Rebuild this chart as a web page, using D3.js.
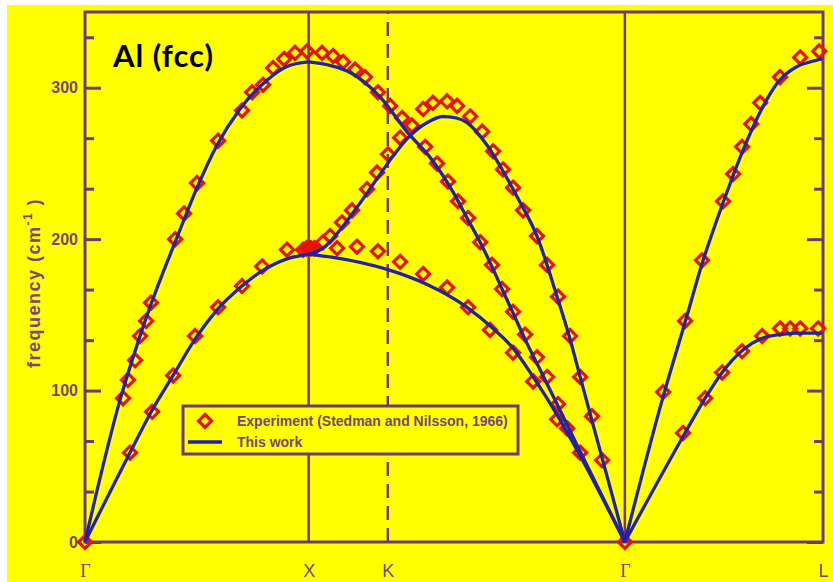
<!DOCTYPE html>
<html>
<head>
<meta charset="utf-8">
<title>Al (fcc) phonons</title>
<style>
body { margin: 0; background: #fff; }
svg { display: block; }
</style>
<script src="https://cdn.jsdelivr.net/npm/d3@7"></script>
</head>
<body>
<svg id="chart" width="833" height="582"></svg>
<script>
// high symmetry points along the path (in 2pi/a units)
const symNames = ["Γ", "X", "K", "Γ", "L"];
const symPos = [0, 1, 1.354, 2.414, 3.3];
const yMajor = [0, 100, 200, 300];
const yMinor = [33.3, 66.7, 133.3, 166.7, 233.3, 266.7, 333.3];

// calculated branches ("This work"), [q, frequency]
const gxLong = [[0,0],[0.157,94],[0.237,132],[0.300,159],[0.349,178],[0.411,201],[0.501,234],[0.590,262],[0.693,286],[0.814,305],[0.903,314],[1.0,317]];
const gxTrans = [[0,0],[0.201,59],[0.300,87],[0.394,110],[0.492,134],[0.595,154],[0.702,169],[0.792,179],[0.903,187],[1.0,190]];
const xgUpper = [[1.0,317],[1.172,311],[1.319,294],[1.445,270],[1.543,254],[1.646,231],[1.708,214],[1.767,198],[1.887,160],[1.977,131],[2.048,110],[2.2,64],[2.414,0]];
const xgMiddle = [[1.0,190],[1.064,194],[1.140,206],[1.216,221],[1.306,240],[1.373,254],[1.445,267],[1.530,277],[1.601,281],[1.660,280],[1.708,277],[1.798,262],[1.869,245],[1.932,228],[2.021,202],[2.111,162],[2.169,134],[2.214,109],[2.414,0]];
const xgLower = [[1.0,190],[1.109,188],[1.351,180],[1.530,170],[1.708,155],[1.825,141],[1.914,128],[2.004,109],[2.111,84],[2.214,57],[2.414,0]];
const glLong = [[2.414,0],[2.585,96],[2.683,145],[2.764,186],[2.853,224],[2.943,259],[3.019,284],[3.095,303],[3.184,314],[3.242,317],[3.296,319]];
const glTrans = [[2.414,0],[2.683,72],[2.773,95],[2.849,112],[2.943,127],[3.019,134],[3.108,137],[3.198,138],[3.296,138]];

// experiment (Stedman and Nilsson, 1966)
const expGamma = [[0,0],[2.414,0]];
const expGxLong = [[0.170,95],[0.192,107],[0.224,120],[0.246,136],[0.273,146],[0.295,158],[0.403,200],[0.443,217],[0.501,237],[0.595,265],[0.702,285],[0.747,297],[0.796,302],[0.841,313],[0.890,319],[0.939,323],[0.993,324]];
const expGxTrans = [[0.201,59],[0.300,86],[0.394,110],[0.492,136],[0.595,155],[0.702,169],[0.792,182],[0.903,193],[0.975,193],[0.99,194],[1.0,194],[1.01,194],[1.025,194]];
const expXgUpper = [[1.060,323],[1.109,321],[1.154,317],[1.208,312],[1.252,307],[1.310,297],[1.364,288],[1.418,280],[1.462,275],[1.521,261],[1.574,250],[1.623,238],[1.668,225],[1.713,214],[1.767,198],[1.820,183],[1.865,167],[1.914,152],[1.968,137],[2.021,122],[2.066,109],[2.115,91],[2.156,75]];
const expXgMiddle = [[1.064,198],[1.096,202],[1.149,211],[1.194,219],[1.261,233],[1.306,244],[1.355,256],[1.409,267],[1.512,286],[1.556,290],[1.619,291],[1.664,288],[1.722,281],[1.776,271],[1.825,258],[1.869,246],[1.914,234],[1.959,219],[2.021,202],[2.066,183],[2.115,162],[2.169,136],[2.214,109],[2.267,83],[2.312,54]];
const expXgLower = [[1.127,194],[1.216,195],[1.310,192],[1.409,185],[1.512,177],[1.619,168],[1.713,155],[1.811,140],[1.914,125],[2.004,106],[2.111,81],[2.214,59]];
const expGlLong = [[2.585,99],[2.683,146],[2.759,186],[2.853,225],[2.898,243],[2.938,261],[2.979,276],[3.019,290],[3.108,307],[3.198,320],[3.283,324]];
const expGlTrans = [[2.674,72],[2.773,95],[2.849,112],[2.938,126],[3.028,136],[3.108,141],[3.153,141],[3.198,141],[3.278,141]];

const calcSets = [gxLong, gxTrans, xgUpper, xgMiddle, xgLower, glLong, glTrans];
const expSets = [expGamma, expGxLong, expGxTrans, expXgUpper, expXgMiddle, expXgLower, expGlLong, expGlTrans];

const purple = "#6f3b6f";
const textPurple = "#7a4678";
const blue = "#2222a6";
const red = "#e2140c";

const svg = d3.select("#chart");

// yellow page
svg.append("rect").attr("x", 7).attr("y", 5).attr("width", 826).attr("height", 577).attr("fill", "#ffff00");

const x = d3.scaleLinear().domain([0, 3.3]).range([85, 823]);
const y = d3.scaleLinear().domain([0, 350]).range([542, 12]);

// vertical lines at X, K, Gamma
svg.selectAll(".sym").data([1, 2, 3]).enter().append("line")
	.attr("x1", i => x(symPos[i])).attr("x2", i => x(symPos[i]))
	.attr("y1", y(0)).attr("y2", y(350))
	.attr("stroke", purple).attr("stroke-width", 2.5)
	.attr("stroke-dasharray", i => i == 2 ? "14,8" : null);

// ticks, left and right, pointing inwards
function tickAxis(axisFn, pos, vals, size, labels) {
	const ax = axisFn(y).tickValues(vals).tickSizeInner(size).tickSizeOuter(0).tickPadding(7);
	if (!labels) ax.tickFormat("");
	const g = svg.append("g").attr("transform", "translate(" + pos + ",0)").call(ax);
	g.select(".domain").remove();
	g.selectAll("line").attr("stroke", purple).attr("stroke-width", 3);
	g.selectAll("text").attr("fill", textPurple).style("font", "bold 16px 'Liberation Sans', Arial, sans-serif");
}
tickAxis(d3.axisLeft, x(0), yMajor, -16, true);
tickAxis(d3.axisLeft, x(0), yMinor, -9, false);
tickAxis(d3.axisRight, x(3.3), yMajor, -16, false);
tickAxis(d3.axisRight, x(3.3), yMinor, -9, false);

// frame
svg.append("rect")
	.attr("x", x(0)).attr("y", y(350))
	.attr("width", x(3.3) - x(0)).attr("height", y(0) - y(350))
	.attr("fill", "none").attr("stroke", purple).attr("stroke-width", 3);

// bottom labels
const xAxis = d3.axisBottom(x).tickValues(symPos).tickFormat((d, i) => symNames[i]).tickSize(0).tickPadding(22);
const gx = svg.append("g").attr("transform", "translate(0," + y(0) + ")").call(xAxis);
gx.select(".domain").remove();
gx.selectAll("text").attr("fill", textPurple)
	.style("font-size", "18px")
	.style("font-family", (d, i) => symNames[i] == "Γ" ? "'Liberation Serif', serif" : "'Liberation Sans', Arial, sans-serif");

// diamond markers
const diamond = "M0,-6.5L6.5,0L0,6.5L-6.5,0Z";
expSets.forEach(set => {
	svg.append("g").selectAll("path").data(set).enter().append("path")
		.attr("d", diamond)
		.attr("transform", d => "translate(" + x(d[0]) + "," + y(d[1]) + ")")
		.attr("fill", "none").attr("stroke", red).attr("stroke-width", 3.2);
});

// calculated curves
const line = d3.line().x(d => x(d[0])).y(d => y(d[1])).curve(d3.curveMonotoneX);
calcSets.forEach(set => {
	svg.append("path").datum(set).attr("d", line)
		.attr("fill", "none").attr("stroke", blue).attr("stroke-width", 3.3)
		.attr("stroke-linejoin", "round");
});

// y axis title
svg.append("text")
	.attr("transform", "translate(40,283) rotate(-90)")
	.attr("text-anchor", "middle")
	.attr("fill", textPurple)
	.style("font", "bold 18px 'Liberation Sans', Arial, sans-serif")
	.style("letter-spacing", "1.5px")
	.html("frequency (cm<tspan dy='-8' font-size='12'>-1</tspan><tspan dy='8'> )</tspan>");

// legend
const leg = svg.append("g");
leg.append("rect").attr("x", 183).attr("y", 406).attr("width", 335).attr("height", 48)
	.attr("fill", "#ffff00").attr("stroke", purple).attr("stroke-width", 3);
leg.append("path").attr("d", diamond).attr("transform", "translate(205,421)")
	.attr("fill", "none").attr("stroke", red).attr("stroke-width", 3.2);
leg.append("line").attr("x1", 188).attr("x2", 222).attr("y1", 442).attr("y2", 442)
	.attr("stroke", blue).attr("stroke-width", 3.5);
leg.selectAll("text").data(["Experiment (Stedman and Nilsson, 1966)", "This work"]).enter().append("text")
	.attr("x", 237).attr("y", (d, i) => 426 + i * 21)
	.attr("fill", textPurple)
	.style("font", "bold 14px 'Liberation Sans', Arial, sans-serif")
	.text(d => d);

// title
svg.append("text").attr("x", 113).attr("y", 67)
	.style("font", "bold 31px Lato, 'Open Sans', sans-serif")
	.style("letter-spacing", "1px")
	.attr("fill", "#000")
	.text("Al (fcc)");
</script>
</body>
</html>
